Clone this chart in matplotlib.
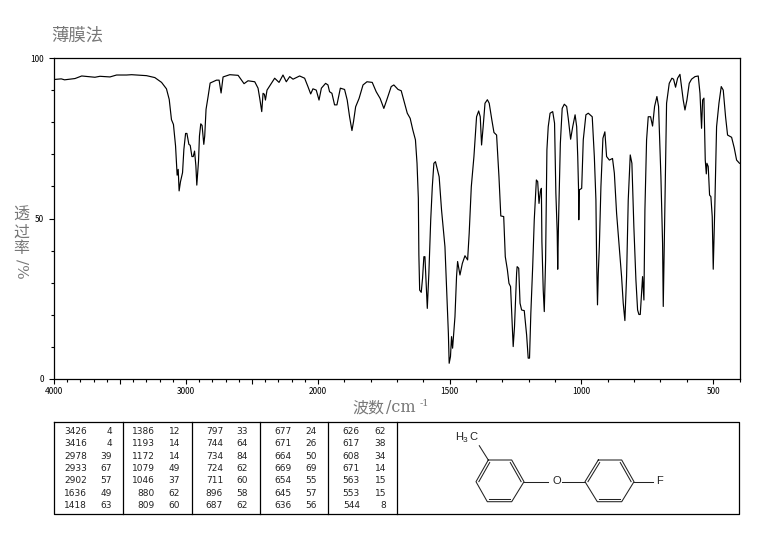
"""IR spectrum (thin film) with peak table and structure drawing."""
import matplotlib
matplotlib.use("Agg")
import matplotlib.pyplot as plt
import numpy as np

plt.rcParams["font.family"] = ["Noto Sans CJK SC", "DejaVu Sans"]

GREY = "#777777"

wavenumber = [
    4000, 3945, 3920, 3841, 3790, 3690, 3652, 3576, 3526, 3450, 3412, 3299, 3236, 3185, 3148, 3127,
    3110, 3095, 3079, 3072, 3067, 3059, 3052, 3042, 3026, 3016, 3003, 2993, 2978, 2968, 2955, 2945,
    2935, 2925, 2918, 2905, 2898, 2888, 2878, 2865, 2858, 2848, 2832, 2817, 2769, 2749, 2734, 2719,
    2668, 2605, 2560, 2530, 2479, 2454, 2441, 2426, 2416, 2406, 2398, 2386, 2328, 2295, 2265, 2240,
    2214, 2189, 2139, 2101, 2076, 2055, 2038, 2013, 1996, 1987, 1971, 1962, 1956, 1947, 1937, 1928,
    1915, 1899, 1889, 1880, 1871, 1865, 1857, 1844, 1829, 1814, 1794, 1779, 1764, 1750, 1739, 1722,
    1712, 1696, 1684, 1671, 1661, 1650, 1640, 1630, 1624, 1619, 1617, 1614, 1608, 1603, 1598, 1594,
    1590, 1585, 1579, 1572, 1566, 1560, 1554, 1540, 1531, 1518, 1512, 1505, 1502, 1497, 1493, 1489,
    1480, 1474, 1470, 1461, 1452, 1442, 1432, 1426, 1418, 1408, 1398, 1390, 1384, 1379, 1373, 1366,
    1357, 1350, 1340, 1332, 1322, 1313, 1306, 1295, 1289, 1281, 1275, 1269, 1262, 1259, 1254, 1246,
    1244, 1238, 1233, 1227, 1217, 1208, 1202, 1197, 1192, 1185, 1179, 1171, 1166, 1161, 1156, 1152,
    1150, 1145, 1141, 1136, 1131, 1126, 1119, 1109, 1102, 1097, 1092, 1090, 1087, 1080, 1073, 1065,
    1056, 1050, 1041, 1033, 1024, 1018, 1014, 1011, 1010, 1008, 999, 993, 983, 974, 959, 951,
    945, 942.5, 939, 936, 932, 926, 918.4, 911, 904.5, 894, 882, 875, 866.5, 856.4, 847.6, 841.3,
    835, 828.6, 822.3, 814.7, 808.4, 801, 793.2, 786.8, 781.8, 776.7, 771.7, 767.9, 762.8, 759, 752.7, 746.4,
    737.5, 730, 722.3, 713.5, 707.2, 698.3, 692, 689.4, 683, 676.8, 666.7, 656.6, 650.2, 642.7, 635, 626,
    620, 613.6, 607, 599.6, 590.8, 582, 569, 556.6, 550, 544, 540, 535, 530, 526, 523.7, 518.7,
    513.6, 508.6, 503.5, 499.7, 493.4, 487, 478, 469.3, 461.7, 452.9, 445.3, 430, 420, 411, 400,
]
transmittance = [
    93.3, 93.5, 93.2, 93.6, 94.4, 94.0, 94.3, 94.1, 94.7, 94.7, 94.8, 94.5, 93.9, 92.4, 90.4, 87.1,
    80.8, 79.3, 72.6, 67.4, 63.5, 65.3, 58.6, 61.4, 64.3, 71.5, 76.5, 76.5, 73.1, 72.8, 69.3, 69.3,
    71.0, 66.4, 60.4, 67.9, 75.7, 79.5, 79.0, 73.1, 75.7, 84.0, 88.1, 92.2, 93.1, 93.1, 89.1, 94.1,
    94.8, 94.6, 92.0, 92.9, 92.6, 90.6, 87.4, 83.3, 89.0, 88.7, 86.9, 90.0, 93.7, 92.4, 94.7, 92.6,
    94.2, 93.4, 94.4, 93.7, 91.1, 88.8, 90.4, 90.0, 86.9, 90.6, 92.1, 91.6, 89.5, 89.0, 85.4, 85.4,
    90.6, 90.2, 86.9, 81.7, 77.4, 80.2, 84.8, 87.4, 91.6, 92.6, 92.4, 89.5, 87.4, 84.3, 86.9, 91.1,
    91.6, 90.2, 89.8, 85.9, 82.8, 81.2, 77.6, 74.5, 67.2, 56.3, 38.7, 27.7, 27.0, 31.4, 38.1, 38.1,
    30.9, 22.0, 33.0, 49.6, 59.9, 67.2, 67.7, 63.0, 52.7, 41.2, 28.8, 14.2, 4.9, 7.0, 13.2, 9.6,
    19.4, 31.9, 36.6, 32.4, 36.0, 38.4, 37.1, 45.4, 59.9, 69.3, 81.7, 83.5, 81.7, 72.9, 78.6, 85.9,
    87.0, 85.9, 80.7, 76.8, 76.0, 63.0, 50.8, 50.6, 38.1, 34.0, 29.8, 28.8, 15.3, 10.1, 16.3, 33.0,
    35.0, 34.5, 23.6, 21.5, 21.3, 13.7, 6.5, 6.5, 20.5, 35.0, 49.6, 62.0, 61.5, 54.7, 58.4, 59.4,
    42.8, 27.7, 21.0, 37.1, 71.4, 78.6, 82.8, 83.3, 79.7, 57.9, 45.9, 34.2, 48.5, 73.4, 84.3, 85.6,
    84.9, 81.2, 74.7, 78.6, 82.3, 78.6, 69.3, 59.4, 49.6, 58.9, 59.4, 74.5, 82.3, 82.8, 81.7, 69.3,
    55.8, 38.1, 23.1, 33.0, 41.2, 59.9, 75.0, 77.0, 69.3, 68.2, 68.7, 64.1, 51.6, 41.2, 31.9, 23.6,
    18.2, 31.9, 55.8, 69.8, 67.2, 47.5, 30.9, 21.5, 20.1, 20.1, 26.7, 31.9, 24.6, 52.7, 74.5, 81.7,
    81.7, 78.8, 84.9, 88.0, 84.9, 63.0, 42.3, 22.6, 55.8, 85.9, 92.1, 93.7, 93.4, 90.9, 93.7, 94.9,
    91.1, 86.9, 83.8, 86.9, 92.1, 93.4, 94.2, 94.4, 89.0, 78.1, 86.9, 87.5, 68.2, 63.9, 67.2, 66.2,
    57.3, 56.8, 50.6, 34.2, 54.7, 78.6, 85.9, 91.1, 90.0, 81.7, 76.0, 75.3, 72.0, 68.2, 67.2,
]

x_major = [4000, 3500, 3000, 2500, 2000, 1500, 1000, 500]
x_labels = ["4000", "", "3000", "", "2000", "1500", "1000", "500"]
x_minor = list(range(400, 4000, 100))
y_major = [0, 50, 100]
y_minor = [10, 20, 30, 40, 60, 70, 80, 90]

peak_wavenumbers = [
    ["3426", "3416", "2978", "2933", "2902", "1636", "1418"],
    ["1386", "1193", "1172", "1079", "1046", "880", "809"],
    ["797", "744", "734", "724", "711", "896", "687"],
    ["677", "671", "664", "669", "654", "645", "636"],
    ["626", "617", "608", "671", "563", "553", "544"],
]
peak_values = [
    ["4", "4", "39", "67", "57", "49", "63"],
    ["12", "14", "14", "49", "37", "62", "60"],
    ["33", "64", "84", "62", "60", "58", "62"],
    ["24", "26", "50", "69", "55", "57", "56"],
    ["62", "38", "34", "14", "15", "15", "8"],
]

# the x axis changes scale at 2000 cm-1
scale_x = [400, 2000, 4000]
scale_px = [0, 421.6, 685.6]


def forward(x):
    return np.interp(x, scale_x, scale_px)


def inverse(p):
    return np.interp(p, scale_px, scale_x)


fig = plt.figure(figsize=(7.65, 5.39), dpi=100)
ax = fig.add_axes([54 / 765, 1 - 379 / 539, 685.5 / 765, 321 / 539])
ax.set_xscale("function", functions=(forward, inverse))
ax.plot(wavenumber, transmittance, color="black", lw=0.85)
ax.set_xlim(4000, 400)
ax.set_ylim(0, 100)

ax.set_xticks(x_major, x_labels)
ax.set_xticks(x_minor, minor=True)
ax.set_yticks(y_major, [str(v) for v in y_major])
ax.set_yticks(y_minor, minor=True)
ax.tick_params(axis="x", which="major", length=3.6, width=0.8, labelsize=6, pad=2)
ax.tick_params(axis="y", which="major", length=3.6, width=0.8, labelsize=6, pad=3.5)
ax.tick_params(which="minor", length=2, width=0.8)
for spine in ax.spines.values():
    spine.set_linewidth(0.9)

# overlay in pixel coordinates for table, structure and the loose labels
ov = fig.add_axes([0, 0, 1, 1], facecolor="none")
ov.set_xlim(0, 765)
ov.set_ylim(539, 0)
ov.axis("off")

ov.text(51, 36, "薄膜法", fontsize=12.5, color=GREY, va="center", ha="left")
ov.text(21, 232, "透\n过\n率", fontsize=11.5, color=GREY, va="center", ha="center", linespacing=1.0)
ov.text(21, 269, "/%", fontsize=11, color=GREY, va="center", ha="center", rotation=270,
        family=["DejaVu Serif"])
ov.text(352, 408, "波数", fontsize=11.5, color=GREY, va="center", ha="left")
ov.text(386, 408, "/cm", fontsize=11.5, color=GREY, va="center", ha="left",
        family=["DejaVu Serif"])
ov.text(420, 404, "-1", fontsize=7, color=GREY, va="center", ha="left",
        family=["DejaVu Serif"])

# peak table
ov.plot([54.5, 739.5, 739.5, 54.5, 54.5], [422, 422, 514, 514, 422], color="black", lw=0.9)
for sep in [123.3, 191.7, 260.3, 328.3, 397.3]:
    ov.plot([sep, sep], [422, 514], color="black", lw=0.9)
row_y = [431, 443.7, 456.3, 468.3, 480.7, 493, 505.3]
col_wn = [87, 155, 223, 292, 360]
col_val = [112, 180, 248, 317, 386]
for c, (wns, vals) in enumerate(zip(peak_wavenumbers, peak_values)):
    for r, (wn, val) in enumerate(zip(wns, vals)):
        ov.text(col_wn[c], row_y[r], wn, fontsize=6.5, ha="right", va="center", color="#222222",
                family="DejaVu Sans")
        ov.text(col_val[c], row_y[r], val, fontsize=6.5, ha="right", va="center", color="#222222",
                family="DejaVu Sans")

# structure drawing
ring_left_x = [488.3, 511.7, 524, 511.7, 487.3, 476, 488.3]
ring_y = [460, 460, 481.7, 501.7, 501.7, 481.7, 460]
ring_right_x = [598.3, 621.7, 634, 621.7, 597.3, 585, 598.3]
for ring_x in (ring_left_x, ring_right_x):
    ov.plot(ring_x, ring_y, color="#222222", lw=0.75)
    cx, cy = np.mean(ring_x[:6]), np.mean(ring_y[:6])
    for i in (1, 3, 5):
        xs = cx + (np.array(ring_x[i:i + 2]) - cx) * 0.88
        ys = cy + (np.array(ring_y[i:i + 2]) - cy) * 0.88
        ov.plot(xs, ys, color="#222222", lw=0.75)
ov.plot([488.3, 479.3], [460, 445.7], color="#222222", lw=0.75)
ov.plot([524, 548.3], [481.7, 481.7], color="#222222", lw=0.75)
ov.plot([561.7, 585], [481.7, 481.7], color="#222222", lw=0.75)
ov.plot([634, 653], [481.7, 481.7], color="#222222", lw=0.75)
ov.text(455, 437.5, "H", fontsize=8, ha="left", va="center", color="#222222", family="Liberation Sans")
ov.text(463, 440, "3", fontsize=6, ha="left", va="center", color="#222222", family="Liberation Sans")
ov.text(469, 437.5, "C", fontsize=8, ha="left", va="center", color="#222222", family="Liberation Sans")
ov.text(556.5, 481.5, "O", fontsize=8, ha="center", va="center", color="#222222", family="Liberation Sans")
ov.text(660, 481.5, "F", fontsize=8, ha="center", va="center", color="#222222", family="Liberation Sans")

fig.savefig("out.png", dpi=100)
plt.close(fig)
